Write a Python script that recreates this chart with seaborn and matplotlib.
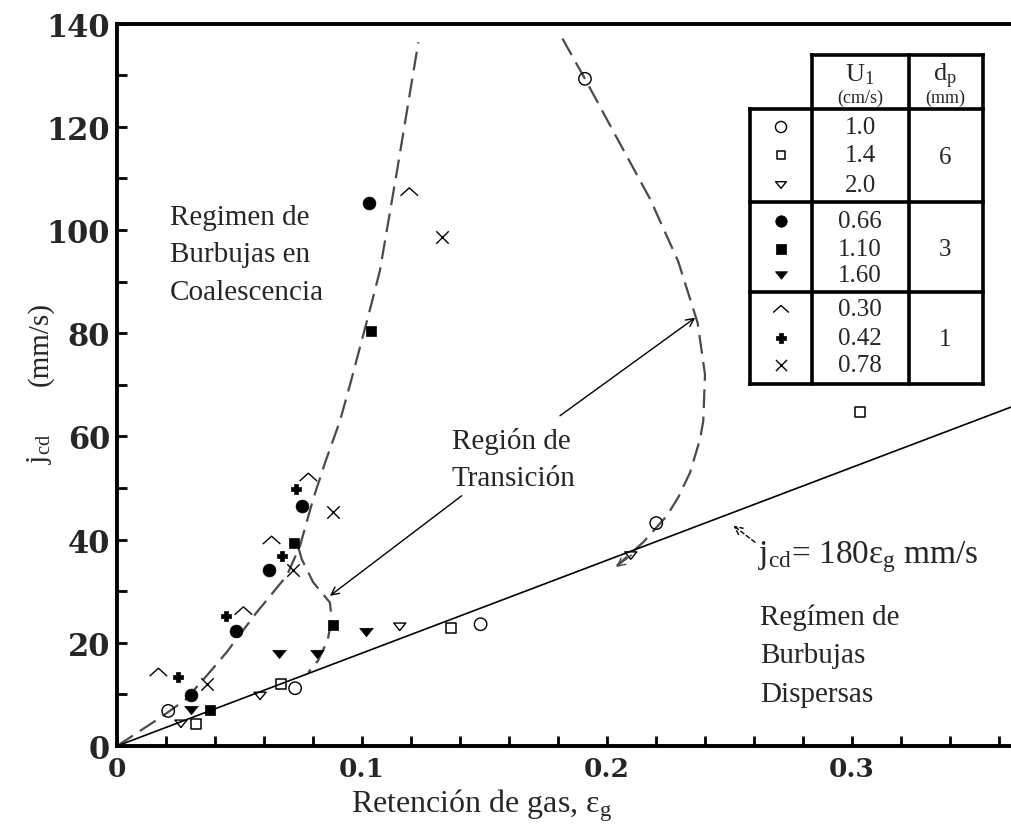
import numpy as np
import pandas as pd
import matplotlib
matplotlib.use("Agg")
import matplotlib.pyplot as plt
from matplotlib.path import Path
import seaborn as sns

# ---- measured points: gas holdup eps_g (-) and drift flux j_cd (mm/s) ----
# 6 mm particles
eps_u10 = [0.0209, 0.0727, 0.1484, 0.2201, 0.1910]
jcd_u10 = [6.8, 11.2, 23.6, 43.2, 129.3]
eps_u14 = [0.0322, 0.0668, 0.1362, 0.3031]
jcd_u14 = [4.3, 12.0, 22.8, 64.8]
eps_u20 = [0.0261, 0.0584, 0.1154, 0.2097]
jcd_u20 = [4.3, 9.7, 23.1, 36.9]
# 3 mm particles
eps_u066 = [0.0302, 0.0485, 0.0622, 0.0754, 0.1030]
jcd_u066 = [9.9, 22.2, 34.2, 46.6, 105.2]
eps_u110 = [0.0380, 0.0724, 0.0882, 0.1037]
jcd_u110 = [7.0, 39.3, 23.5, 80.5]
eps_u160 = [0.0302, 0.0662, 0.0818, 0.1018]
jcd_u160 = [7.0, 17.8, 17.8, 22.0]
# 1 mm particles
eps_u030 = [0.0169, 0.0516, 0.0631, 0.0781, 0.1193]
jcd_u030 = [14.3, 26.2, 39.9, 52.1, 107.4]
eps_u042 = [0.0250, 0.0445, 0.0672, 0.0731]
jcd_u042 = [13.4, 25.1, 36.8, 49.9]
eps_u078 = [0.0366, 0.0720, 0.0883, 0.1325]
jcd_u078 = [12.0, 34.2, 45.3, 98.6]

# ---- regime boundaries (hand-drawn dashed curves) ----
eps_coal = [0.0, 0.018, 0.028, 0.0373, 0.0448, 0.057, 0.0693, 0.0747, 0.0801,
            0.085, 0.091, 0.0951, 0.1026, 0.1073, 0.1142, 0.123]
jcd_coal = [0.0, 5.6, 9.0, 14.0, 18.2, 25.9, 33.0, 38.8, 47.9,
            55.0, 63.0, 70.0, 83.4, 92.1, 111.2, 136.4]
eps_trans = [0.0740, 0.0754, 0.0801, 0.0869, 0.0876, 0.0860, 0.0820, 0.0780]
jcd_trans = [38.5, 36.2, 31.7, 27.8, 24.6, 20.5, 16.5, 14.2]
eps_disp = [0.1818, 0.1910, 0.2050, 0.2176, 0.2290, 0.2370, 0.2400, 0.2393,
            0.2380, 0.2339, 0.2291, 0.2244, 0.2148, 0.2040]
jcd_disp = [137.1, 129.3, 117.0, 106.0, 94.0, 82.0, 72.0, 63.0,
            59.5, 53.0, 48.2, 44.6, 39.5, 34.9]

# homogeneous-regime line j_cd = 180 eps_g
slope_line = 180.0

# legend table
u_labels = ["1.0", "1.4", "2.0", "0.66", "1.10", "1.60", "0.30", "0.42", "0.78"]
dp_labels = ["6", "3", "1"]

caret = Path([(-1.0, -0.45), (0.0, 0.45), (1.0, -0.45)],
             [Path.MOVETO, Path.LINETO, Path.LINETO])
tri_down = Path([(-1.0, 0.62), (1.0, 0.62), (0.0, -0.62), (-1.0, 0.62)],
                [Path.MOVETO, Path.LINETO, Path.LINETO, Path.CLOSEPOLY])

series = [
    (eps_u10, jcd_u10, dict(marker="o", s=80, facecolor="none", edgecolor="black", linewidth=1.0)),
    (eps_u14, jcd_u14, dict(marker="s", s=52, facecolor="none", edgecolor="black", linewidth=1.1)),
    (eps_u20, jcd_u20, dict(marker=tri_down, s=75, facecolor="none", edgecolor="black", linewidth=1.0)),
    (eps_u066, jcd_u066, dict(marker="o", s=85, facecolor="black", edgecolor="black", linewidth=0.5)),
    (eps_u110, jcd_u110, dict(marker="s", s=55, facecolor="black", edgecolor="black", linewidth=0.5)),
    (eps_u160, jcd_u160, dict(marker=tri_down, s=95, facecolor="black", edgecolor="black", linewidth=0.5)),
    (eps_u030, jcd_u030, dict(marker=caret, s=160, facecolor="none", edgecolor="black", linewidth=1.0)),
    (eps_u042, jcd_u042, dict(marker="P", s=60, facecolor="black", edgecolor="black", linewidth=0.5)),
    (eps_u078, jcd_u078, dict(marker="x", s=80, color="black", linewidth=1.0)),
]

sns.set_style("white")
plt.rcParams["font.family"] = ["Liberation Serif", "DejaVu Serif"]
plt.rcParams["mathtext.fontset"] = "custom"
plt.rcParams["mathtext.rm"] = "Liberation Serif"
plt.rcParams["mathtext.it"] = "Liberation Serif:italic"

W, H = 1011, 828
fig = plt.figure(figsize=(W / 100, H / 100), dpi=100)

def fx(px):
    return px / W

def fy(py):
    return 1 - py / H

x0_px, y0_px, x_scale, y_scale = 117, 747, 2450.0, 5.16
xmax = (W - x0_px) / x_scale
ymax = 140.0
ax = fig.add_axes([fx(x0_px), fy(y0_px), 1 - fx(x0_px), (ymax * y_scale) / H])
ax.set_xlim(0, xmax)
ax.set_ylim(0, ymax)

# dashed regime boundaries
dash_kw = dict(color="#4a4a4a", lw=1.6, dashes=(8.5, 3.8), zorder=2)
ax.plot(eps_coal, jcd_coal, **dash_kw)
ax.plot(eps_trans, jcd_trans, **dash_kw)
ax.plot(eps_disp, jcd_disp, **dash_kw)

# homogeneous line
line_df = pd.DataFrame({"eps": [0.0, xmax], "jcd": [0.0, slope_line * xmax]})
sns.lineplot(data=line_df, x="eps", y="jcd", ax=ax, color="black", lw=1.2, zorder=2)

# data points
for xs, ys, kw in series:
    df = pd.DataFrame({"eps": xs, "jcd": ys})
    sns.scatterplot(data=df, x="eps", y="jcd", ax=ax, zorder=3, legend=False, **kw)

# axes styling
for side in ["left", "bottom", "top"]:
    ax.spines[side].set_visible(True)
    ax.spines[side].set_linewidth(2.8)
    ax.spines[side].set_color("black")
ax.spines["right"].set_visible(False)
ax.set_xticks(np.arange(0, 0.361, 0.02), minor=True)
ax.set_xticks([0, 0.1, 0.2, 0.3])
ax.set_xticklabels(["0", "0.1", "0.2", "0.3"])
ax.set_yticks(np.arange(0, 141, 10), minor=True)
ax.set_yticks(np.arange(0, 141, 20))
ax.tick_params(which="both", direction="in", length=7.5, width=2.0, color="black",
               top=False, right=False, left=True, bottom=True)
ax.tick_params(axis="y", which="major", pad=5)
ax.tick_params(axis="x", which="major", pad=7)
for lab in ax.get_yticklabels():
    lab.set_fontfamily("DejaVu Serif")
    lab.set_fontweight("bold")
    lab.set_fontsize(22)
for lab in ax.get_xticklabels():
    lab.set_fontfamily("DejaVu Serif")
    lab.set_fontweight("bold")
    lab.set_fontsize(19)
ax.set_xlabel("")
ax.set_ylabel("")

fig.text(fx(482), fy(806), "Retención de gas, ε$_\\mathrm{g}$", fontsize=23,
         ha="center", va="center")
fig.text(fx(40), fy(344), "(mm/s)", fontsize=21, rotation=90,
         ha="center", va="center")
fig.text(fx(40), fy(449), "j$_\\mathrm{cd}$", fontsize=21, rotation=90,
         ha="center", va="center")

# region labels
txt_kw = dict(fontsize=21, ha="left", va="baseline")
for i, s in enumerate(["Regimen de", "Burbujas en", "Coalescencia"]):
    fig.text(fx(170), fy(225 + 37.5 * i), s, **txt_kw)
for i, s in enumerate(["Región de", "Transición"]):
    fig.text(fx(452), fy(449 + 36.7 * i), s, **txt_kw)
for i, s in enumerate(["Regímen de", "Burbujas", "Dispersas"]):
    fig.text(fx(760), fy(625 + 38.3 * i), s, **txt_kw)
fig.text(fx(758), fy(563), "j$_\\mathrm{cd}$= 180ε$_\\mathrm{g}$ mm/s", fontsize=24,
         ha="left", va="baseline")

# arrows
arrow_kw = dict(arrowstyle="->", color="black", lw=1.0, shrinkA=0, shrinkB=0,
                mutation_scale=14)
ax.annotate("", xy=(0.0869, 29.1), xytext=(0.1407, 48.5), arrowprops=arrow_kw)
ax.annotate("", xy=(0.2360, 83.0), xytext=(0.1808, 64.0), arrowprops=arrow_kw)
ax.annotate("", xy=(0.2516, 42.7), xytext=(0.2604, 39.5),
            arrowprops=dict(arrow_kw, linestyle=(0, (3, 2))))
ax.annotate("", xy=(0.2037, 34.7), xytext=(0.2100, 37.0),
            arrowprops=dict(arrow_kw, color="#4a4a4a"))

# legend table (pixel coordinates)
tab = fig.add_axes([fx(750), fy(385), fx(983) - fx(750), (385 - 56) / H])
tab.set_xlim(750, 983)
tab.set_ylim(385, 56)
tab.axis("off")
tab.add_patch(plt.Rectangle((812, 56), 171, 54, facecolor="white", edgecolor="none"))
tab.add_patch(plt.Rectangle((750, 110), 233, 275, facecolor="white", edgecolor="none"))
blw = 2.6
for yy in [110, 203, 293, 385]:
    tab.plot([750, 983], [yy, yy], color="black", lw=blw, solid_capstyle="projecting", clip_on=False)
tab.plot([812, 983], [56, 56], color="black", lw=blw, solid_capstyle="projecting", clip_on=False)
tab.plot([750, 750], [110, 385], color="black", lw=blw, solid_capstyle="projecting", clip_on=False)
for xx in [812, 909, 983]:
    tab.plot([xx, xx], [56, 385], color="black", lw=blw, solid_capstyle="projecting", clip_on=False)

tab.text(860, 81, "U$_\\mathrm{1}$", fontsize=19, ha="center", va="baseline")
tab.text(860, 103, "(cm/s)", fontsize=13, ha="center", va="baseline")
tab.text(945, 81, "d$_\\mathrm{p}$", fontsize=19, ha="center", va="baseline")
tab.text(945, 103, "(mm)", fontsize=13, ha="center", va="baseline")

row_y = [128, 156, 186, 222, 250, 276, 310, 339, 366]
for (xs, ys, kw), yy, lab in zip(series, row_y, u_labels):
    kw2 = dict(kw)
    kw2["s"] = kw2["s"] * 0.8
    tab.scatter([781], [yy], clip_on=False, zorder=3, **kw2)
    tab.text(860, yy, lab, fontsize=18, ha="center", va="center")
for yy, lab in zip([158, 250, 340], dp_labels):
    tab.text(945, yy, lab, fontsize=18, ha="center", va="center")

fig.savefig("out.png", dpi=100, facecolor="white")
